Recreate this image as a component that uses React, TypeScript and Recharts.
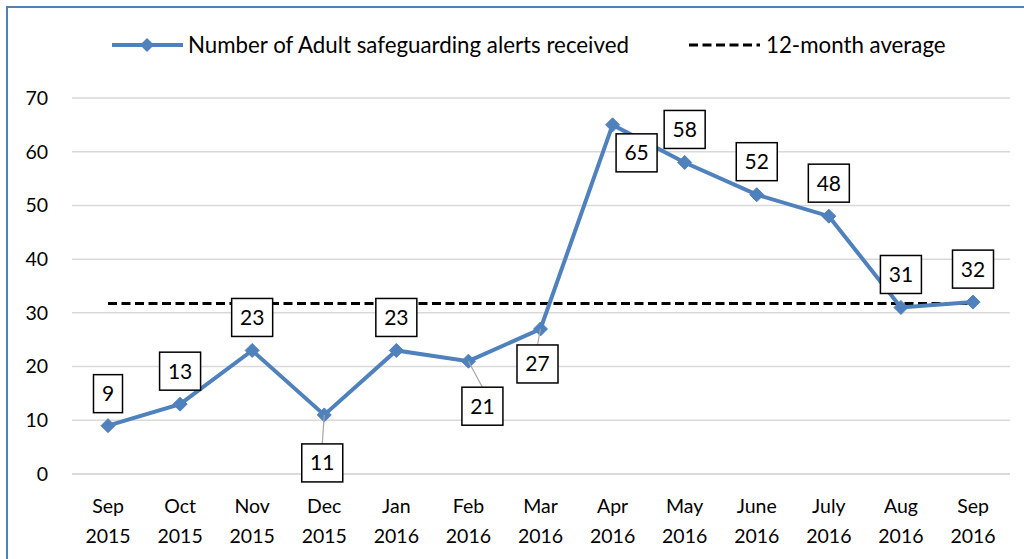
import React from 'react';
import { LineChart, Line, XAxis, YAxis, CartesianGrid, LabelList } from 'recharts';

const months = ['Sep', 'Oct', 'Nov', 'Dec', 'Jan', 'Feb', 'Mar', 'Apr', 'May', 'June', 'July', 'Aug', 'Sep'];
const years = ['2015', '2015', '2015', '2015', '2016', '2016', '2016', '2016', '2016', '2016', '2016', '2016', '2016'];
const alerts = [9, 13, 23, 11, 23, 21, 27, 65, 58, 52, 48, 31, 32];
const average = 31.75;
const yTicks = [0, 10, 20, 30, 40, 50, 60, 70];

const SERIES_NAME = 'Number of Adult safeguarding alerts received';
const AVG_NAME = '12-month average';

// label box placement relative to each point (layout only)
const labelOffsets: [number, number, boolean][] = [
  [0, -32, false],
  [0, -33, false],
  [0, -33, false],
  [-2, 48, true],
  [0, -33, false],
  [14, 45, true],
  [-3, 35, true],
  [24, 28, false],
  [0, -33, false],
  [0, -33, false],
  [0, -33, false],
  [0, -33, false],
  [0, -33, false],
];

const data = months.map((m, i) => ({
  cat: `${m} ${years[i]}`,
  month: m,
  year: years[i],
  alerts: alerts[i],
  avg: average,
}));

const FONT = 'Lato, "Liberation Sans", sans-serif';
const BLUE = '#4F81BD';

const Diamond = (props: any) => {
  const { cx, cy } = props;
  if (cx == null || cy == null) return null;
  const r = 7;
  return (
    <path
      d={`M${cx},${cy - r}L${cx + r},${cy}L${cx},${cy + r}L${cx - r},${cy}Z`}
      fill={BLUE}
      stroke={BLUE}
      strokeWidth={1}
    />
  );
};

const BoxLabel = (props: any) => {
  const { x, y, value, index } = props;
  if (x == null || y == null) return null;
  const [dx, dy, leader] = labelOffsets[index] || [0, -33, false];
  const text = String(value);
  const w = text.length > 1 ? 41 : 29;
  const h = 38;
  const cx = x + dx;
  const cy = y + dy;
  return (
    <g>
      {leader && (
        <line x1={x} y1={y} x2={cx} y2={cy - h / 2} stroke="#A6A6A6" strokeWidth={1.2} />
      )}
      <rect x={cx - w / 2} y={cy - h / 2} width={w} height={h} fill="#fff" stroke="#000" strokeWidth={1.5} />
      <text x={cx} y={cy + 7.5} textAnchor="middle" fontFamily={FONT} fontSize={21} fill="#000">
        {text}
      </text>
    </g>
  );
};

const XTick = (props: any) => {
  const { x, payload, index } = props;
  const i = payload?.index ?? index;
  return (
    <text x={x} y={513} textAnchor="middle" fontFamily={FONT} fontSize={19.5} fill="#000">
      <tspan x={x} y={513}>{months[i]}</tspan>
      <tspan x={x} y={543}>{years[i]}</tspan>
    </text>
  );
};

const LegendBlock = () => (
  <svg width={1024} height={30} style={{ position: 'absolute', left: 0, top: 30, display: 'block' }}>
    <line x1={112} y1={15} x2={183} y2={15} stroke={BLUE} strokeWidth={4} />
    <path d="M147,8L154,15L147,22L140,15Z" fill={BLUE} />
    <text x={188} y={23} fontFamily={FONT} fontSize={22.3} fill="#000">{SERIES_NAME}</text>
    <line x1={689} y1={15} x2={760} y2={15} stroke="#000" strokeWidth={3} strokeDasharray="9 4.5" />
    <text x={766} y={23} fontFamily={FONT} fontSize={22.3} fill="#000">{AVG_NAME}</text>
  </svg>
);

export default function App() {
  return (
    <div style={{ position: 'absolute', left: 0, top: 0, width: 1024, height: 559, overflow: 'hidden', background: '#fff' }}>
      <div
        style={{
          position: 'absolute',
          left: 6,
          top: 6,
          width: 1100,
          height: 700,
          border: '2.5px solid #4F81BD',
          boxSizing: 'border-box',
        }}
      />
      <LegendBlock />
      <div style={{ position: 'absolute', left: 0, top: 0 }}>
        <LineChart width={1024} height={559} data={data} margin={{ top: 98, right: 14, bottom: 0, left: 0 }}>
          <CartesianGrid vertical={false} stroke="#D9D9D9" strokeWidth={1.5} />
          <XAxis
            dataKey="cat"
            height={85}
            axisLine={{ stroke: '#D9D9D9', strokeWidth: 1.5 }}
            tickLine={false}
            interval={0}
            padding={{ left: 36, right: 37 }}
            tick={<XTick />}
          />
          <YAxis
            width={72}
            domain={[0, 70]}
            ticks={yTicks}
            axisLine={false}
            tickLine={false}
            tickMargin={18}
            tick={{ fontFamily: FONT, fontSize: 19.5, fill: '#000' }}
          />
          <Line
            type="linear"
            dataKey="avg"
            name={AVG_NAME}
            stroke="#000"
            strokeWidth={3}
            strokeDasharray="9 4.5"
            dot={false}
            activeDot={false}
            isAnimationActive={false}
          />
          <Line
            type="linear"
            dataKey="alerts"
            name={SERIES_NAME}
            stroke={BLUE}
            strokeWidth={4}
            dot={<Diamond />}
            activeDot={false}
            isAnimationActive={false}
          >
            <LabelList dataKey="alerts" content={<BoxLabel />} />
          </Line>
        </LineChart>
      </div>
    </div>
  );
}
